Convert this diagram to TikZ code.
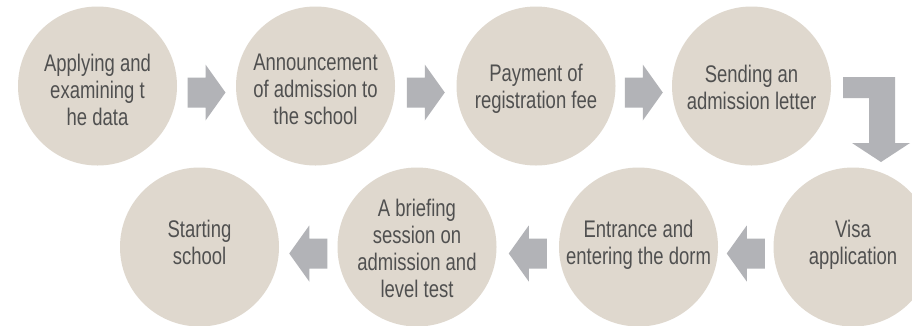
\documentclass[tikz,border=0pt]{standalone}
\usepackage{fontspec}
\setmainfont{Liberation Sans}[FakeStretch=0.77]
\usetikzlibrary{calc}
\definecolor{circfill}{HTML}{DFD8CE}
\definecolor{arrowgray}{HTML}{B2B3B7}
\definecolor{txtgray}{HTML}{505050}
\tikzset{
  stage/.style={circle, fill=circfill, minimum size=159pt, inner sep=0pt},
  tx/.style={text=txtgray, align=center, inner sep=0pt,
    font=\fontsize{24}{27}\selectfont},
  rarrow/.pic={\fill[arrowgray] (-19,-15) -- (-1,-15) -- (-1,-28) -- (19,0) -- (-1,28) -- (-1,15) -- (-19,15) -- cycle;},
  larrow/.pic={\fill[arrowgray] (19,-15) -- (1,-15) -- (1,-28) -- (-19,0) -- (1,28) -- (1,15) -- (19,15) -- cycle;},
}
\begin{document}
\begin{tikzpicture}[x=1pt,y=-1pt]
\path[fill=white, use as bounding box] (0,0) rectangle (912,325);
% top row
\node[stage, label={[tx,yshift=-3.5pt]center:Applying and\\examining t\\he data}] (c1) at (97.5,86) {};
\node[stage, label={[tx,yshift=-3.5pt]center:Announcement\\of admission to\\the school}] (c2) at (315.5,86) {};
\node[stage, label={[tx,yshift=-3pt]center:Payment of\\registration fee}] (c3) at (536,86) {};
\node[stage, label={[tx,yshift=-1pt]center:Sending an\\admission letter}] (c4) at (751.5,86) {};
% bottom row
\node[stage, label={[tx,yshift=2pt]center:Visa\\application}] (c5) at (853,247) {};
\node[stage, label={[tx,yshift=2pt]center:Entrance and\\entering the dorm}] (c6) at (638.5,247) {};
\node[stage, label={[tx,yshift=-1pt]center:A briefing\\session on\\admission and\\level test}] (c7) at (417,247) {};
\node[stage, label={[tx,yshift=5pt]center:Starting\\school}] (c8) at (199.5,247) {};
% arrows
\pic at ($(c1.east)!0.5!(c2.west)+(0,6.5)$) {rarrow};
\pic at ($(c2.east)!0.5!(c3.west)+(0,6.5)$) {rarrow};
\pic at ($(c3.east)!0.5!(c4.west)+(0,6.5)$) {rarrow};
\pic at ($(c5.west)!0.5!(c6.east)+(0,6.5)$) {larrow};
\pic at ($(c6.west)!0.5!(c7.east)+(0,6.5)$) {larrow};
\pic at ($(c7.west)!0.5!(c8.east)+(0,6.5)$) {larrow};
% bent arrow from c4 down to c5
\coordinate (bend) at (882,77);
\fill[arrowgray] ($(bend)+(-39,0)$) -- ($(bend)+(13,0)$) -- ($(bend)+(13,66)$) -- ($(bend)+(28,66)$)
  -- ($(bend)+(-1,85)$) -- ($(bend)+(-30,66)$) -- ($(bend)+(-13,66)$) -- ($(bend)+(-13,21)$)
  -- ($(bend)+(-39,21)$) -- cycle;
\end{tikzpicture}
\end{document}
